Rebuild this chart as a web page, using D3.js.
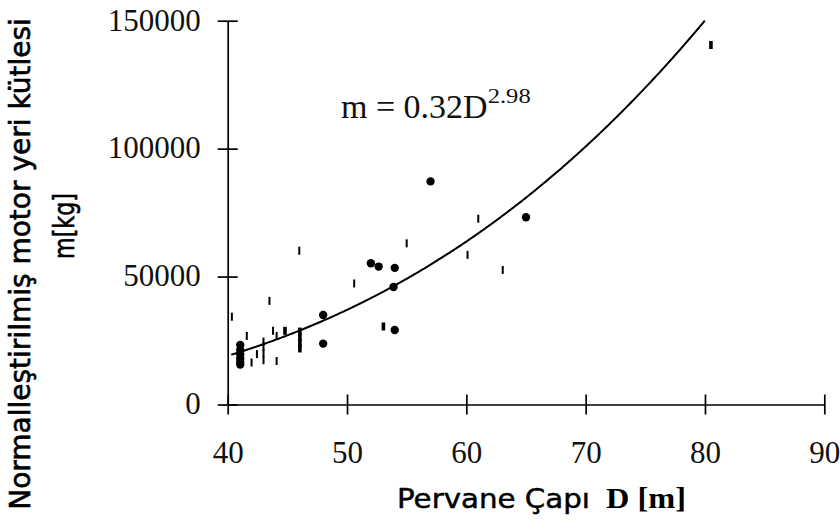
<!DOCTYPE html>
<html>
<head>
<meta charset="utf-8">
<script src="https://cdn.jsdelivr.net/npm/d3@7"></script>
<style>
  html, body { margin: 0; padding: 0; background: #fff; }
  svg { display: block; }
</style>
</head>
<body>
<svg id="chart" width="840" height="525"></svg>
<script>
// Propeller diameter D [m] vs. normalised nacelle mass m [kg]

// Round markers
const dotD = [57.0, 65.0, 52.0, 52.65, 54.0, 53.9, 48.0, 48.0, 54.0,
              41.05, 41.05, 41.05, 41.05, 41.05, 41.05];
const dotM = [87200, 73200, 55200, 53900, 53400, 45900, 35000, 23800, 29100,
              23300, 21300, 19600, 18000, 16600, 15600];

// Thin vertical dash markers
const dashD = [46.0, 43.5, 40.35, 50.6, 55.0, 61.0, 60.1, 63.05,
               41.6, 42.0, 42.45, 43.0, 43.0, 43.0, 43.0, 43.8, 44.1, 44.1];
const dashM = [60100, 40500, 34300, 47300, 63000, 72600, 58500, 52600,
               26800, 16400, 19700, 17300, 20000, 22500, 24600, 28800, 26800, 17000];

// Heavy vertical dash markers
const barD = [80.5, 44.8, 53.05, 46.05, 46.05, 46.05, 46.05];
const barM = [140500, 28800, 30500, 21900, 24000, 26300, 28500];

// Axis ticks
const xTicks = [40, 50, 60, 70, 80, 90];
const yTicks = [0, 50000, 100000, 150000];

// Power-law fit m = a * D^b
const fitA = 0.32;
const fitB = 2.98;

const serif = "'Liberation Serif', 'Times New Roman', serif";
const sans = "'DejaVu Sans', Verdana, sans-serif";

const svg = d3.select("#chart");
svg.append("rect").attr("width", 840).attr("height", 525).attr("fill", "#fff");

const x = d3.scaleLinear().domain([40, 90]).range([227.7, 824.3]);
const y = d3.scaleLinear().domain([0, 150000]).range([404.5, 20.7]);

const ink = "#000";
const axisW = 1.7;

// Y axis
const gy = svg.append("g")
  .attr("transform", `translate(${x(40)},0)`)
  .call(d3.axisLeft(y).tickValues(yTicks).tickSizeInner(10).tickSizeOuter(0).tickPadding(17)
        .tickFormat(d3.format("d")));
gy.attr("font-family", serif);
gy.select(".domain").attr("stroke", ink).attr("stroke-width", axisW);
gy.selectAll(".tick line").attr("stroke", ink).attr("stroke-width", axisW).attr("x1", 10);
gy.selectAll(".tick text").attr("font-family", serif).attr("font-size", 31)
  .attr("fill", "#111").attr("dy", "0.3em");

// X axis
const gx = svg.append("g")
  .attr("transform", `translate(0,${y(0)})`)
  .call(d3.axisBottom(x).tickValues(xTicks).tickSizeInner(10).tickSizeOuter(0).tickPadding(0)
        .tickFormat(d3.format("d")));
gx.attr("font-family", serif);
gx.select(".domain").attr("stroke", ink).attr("stroke-width", axisW);
gx.selectAll(".tick line").attr("stroke", ink).attr("stroke-width", axisW).attr("y1", -10);
gx.selectAll(".tick text").attr("font-family", serif).attr("font-size", 31)
  .attr("fill", "#111").attr("dy", null).attr("y", 58);

// Fit curve, from the smallest diameter up to the top of the value axis
const dStart = 40.3;
const dEnd = Math.pow(150000 / fitA, 1 / fitB);
const curveD = d3.range(dStart, dEnd, 0.1).concat([dEnd]);
svg.append("path")
  .datum(curveD)
  .attr("fill", "none")
  .attr("stroke", ink)
  .attr("stroke-width", 2)
  .attr("d", d3.line().x(d => x(d)).y(d => y(fitA * Math.pow(d, fitB))));

// Markers
const dots = dotD.map((d, i) => ({ d, m: dotM[i] }));
const dashes = dashD.map((d, i) => ({ d, m: dashM[i] }));
const bars = barD.map((d, i) => ({ d, m: barM[i] }));

svg.append("g").selectAll("rect").data(dashes).join("rect")
  .attr("x", p => x(p.d) - 1).attr("y", p => y(p.m) - 4)
  .attr("width", 2).attr("height", 8).attr("fill", ink);

svg.append("g").selectAll("rect").data(bars).join("rect")
  .attr("x", p => x(p.d) - 1.8).attr("y", p => y(p.m) - 4)
  .attr("width", 3.6).attr("height", 8).attr("fill", ink);

svg.append("g").selectAll("circle").data(dots).join("circle")
  .attr("cx", p => x(p.d)).attr("cy", p => y(p.m))
  .attr("r", 4.2).attr("fill", ink);

// Fit equation
const eq = svg.append("text")
  .attr("x", 341).attr("y", 118)
  .attr("font-family", serif)
  .attr("font-size", 34).attr("fill", "#111");
eq.append("tspan").text("m = " + fitA + "D");
eq.append("tspan").attr("dy", -15).attr("font-size", 20)
  .attr("textLength", 43).attr("lengthAdjust", "spacingAndGlyphs").text(fitB);

// Axis titles
svg.append("text")
  .attr("x", 397).attr("y", 508)
  .attr("font-family", sans).attr("font-size", 27).attr("fill", "#000")
  .attr("stroke", "#000").attr("stroke-width", 0.5)
  .attr("textLength", 193).attr("lengthAdjust", "spacingAndGlyphs")
  .text("Pervane Çapı");
svg.append("text")
  .attr("x", 606).attr("y", 508)
  .attr("font-family", serif).attr("font-weight", "bold")
  .attr("font-size", 29).attr("fill", "#000")
  .attr("textLength", 80).attr("lengthAdjust", "spacingAndGlyphs")
  .text("D [m]");

const yt = svg.append("g").attr("font-family", sans)
  .attr("font-size", 28).attr("fill", "#000").attr("text-anchor", "middle")
  .attr("stroke", "#000").attr("stroke-width", 0.6);
yt.append("text").attr("transform", "translate(30,264) rotate(-90)")
  .text("Normalleştirilmiş motor yeri kütlesi");
yt.append("text").attr("transform", "translate(74,226) rotate(-90)")
  .attr("textLength", 66).attr("lengthAdjust", "spacingAndGlyphs")
  .text("m[kg]");
</script>
</body>
</html>
